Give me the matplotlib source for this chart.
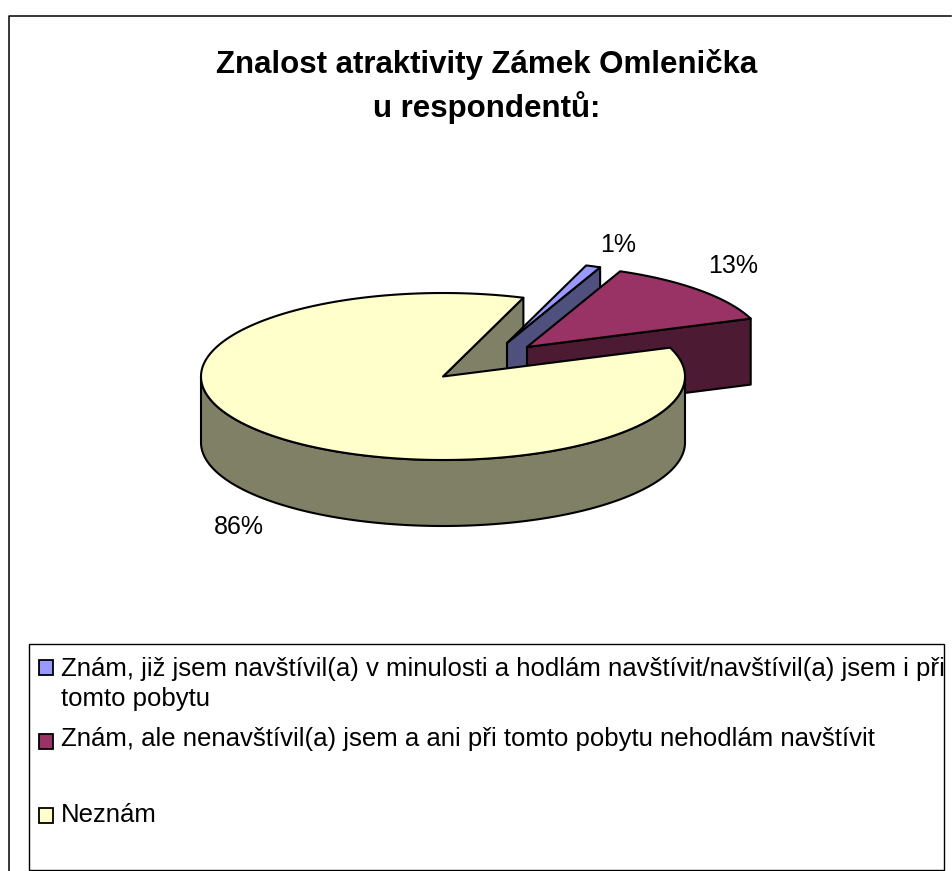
import numpy as np
import matplotlib
matplotlib.use('Agg')
import matplotlib.pyplot as plt
from matplotlib.patches import Polygon, Rectangle

plt.rcParams['font.family'] = ['Liberation Sans', 'DejaVu Sans']

title = 'Znalost atraktivity Zámek Omlenička\nu respondentů:'
values = [1, 13, 86]
value_labels = ['1%', '13%', '86%']
legend_lines = ['Znám, již jsem navštívil(a) v minulosti a hodlám navštívit/navštívil(a) jsem i při\ntomto pobytu',
                'Znám, ale nenavštívil(a) jsem a ani při tomto pobytu nehodlám navštívit',
                'Neznám']
top_colors = ['#9999ff', '#993366', '#ffffcc']
wall_colors = ['#50507f', '#4c1a33', '#808066']

# pie geometry in pixels
start_angle = 19.4
a, b, depth = 242, 83.5, 66
centers = [(507, 343), (527, 347), (443, 376.5)]
scales = [0.985, 0.985, 1]


def rim(c, a1, a2, s=1):
    t = np.radians(np.linspace(a1, a2, 300))
    return np.column_stack([c[0] + s * a * np.sin(t), c[1] - s * b * np.cos(t)])


fig = plt.figure(figsize=(9.52, 8.71), dpi=100)
ax = fig.add_axes([0, 0, 1, 1])
ax.set_xlim(0, 952)
ax.set_ylim(871, 0)
ax.axis('off')

# outer frame, right and bottom are cut by the image edge
ax.plot([9, 9, 951], [871, 16, 16], color='black', lw=1.1)

edges = start_angle + np.cumsum([0] + values) * 3.6
kw = dict(edgecolor='black', lw=1.5, joinstyle='round')

# back cut wall of the big slice
c = centers[2]
p = rim(c, edges[3], edges[3])[0]
ax.add_patch(Polygon([c, p, (p[0], p[1] + depth), (c[0], c[1] + depth)], facecolor=wall_colors[2], **kw))

# small slice and middle slice
for i in [0, 1]:
    c = centers[i]
    s = scales[i]
    p = rim(c, edges[i + 1], edges[i + 1], s)[0]
    ax.add_patch(Polygon([c, p, (p[0], p[1] + depth), (c[0], c[1] + depth)], facecolor=wall_colors[i], **kw))
    ax.add_patch(Polygon(np.vstack([[c], rim(c, edges[i], edges[i + 1], s)]), facecolor=top_colors[i], **kw))

# big slice, outer wall then top
c = centers[2]
front = rim(c, 90, 270)
ax.add_patch(Polygon(np.vstack([front, (front + [0, depth])[::-1]]), facecolor=wall_colors[2], **kw))
ax.add_patch(Polygon(np.vstack([[c], rim(c, edges[2], edges[3])]), facecolor=top_colors[2], **kw))

ax.text(486.5, 86.5, title, ha='center', va='center', fontsize=22.5, fontweight='bold', linespacing=1.44)

label_pos = [(618, 245), (733, 266), (239, 527)]
for pos, s in zip(label_pos, value_labels):
    ax.text(pos[0], pos[1], s, ha='center', va='center', fontsize=18)

# legend
ax.add_patch(Rectangle((29, 644), 914.5, 226, facecolor='white', edgecolor='black', lw=1))
legend_y = [684, 739, 815]
box_y = [660, 734, 808]
for y, by, s, col in zip(legend_y, box_y, legend_lines, top_colors):
    ax.add_patch(Rectangle((39, by), 14, 15, facecolor=col, edgecolor='black', lw=1.3))
    ax.text(61, y, s, ha='left', va='center', fontsize=18.5, linespacing=1.3)

fig.savefig('out.png', dpi=100, facecolor='white')
